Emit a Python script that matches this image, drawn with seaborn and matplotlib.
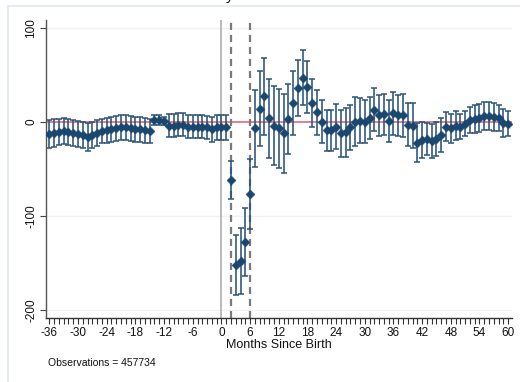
import matplotlib
matplotlib.use("Agg")
import matplotlib.pyplot as plt
from matplotlib.lines import Line2D
import pandas as pd
import seaborn as sns

# Event-time coefficients (months relative to birth) with 95% CI half-widths
months = list(range(-36, 61))

coef = [
    -13, -12, -11, -10, -11, -12, -13, -14, -16, -14, -12, -10, -9, -8, -7, -6,
    -6, -7, -8, -8, -9, -10,                      # -36 .. -15
    2, 2, 1,                                      # -14 .. -12
    -4, -4, -3, -3, -5, -5, -5, -5, -6, -8, -6, -6, -6,   # -11 .. 1
    -62, -152, -148, -128, -77,                   # 2 .. 6
    -7, 14, 27, 4, -4, -7, -12, 3, 20, 36, 47, 37, 20, 10, 0, -9, -9, -5,
    -12, -11, -6, 0, 1, 0, 4, 13, 7, 8, 1, 9, 7, 7, -3, -4, -22, -19, -18,
    -20, -18, -14, -5, -7, -4, -5, -2, 2, 3, 4, 6, 6, 5, 4, -1, -2,   # 7 .. 60
]

half_width = [
    15, 15, 14, 14, 14, 14, 14, 14, 15, 14, 14, 13, 13, 13, 13, 13,
    13, 13, 13, 13, 13, 13,
    5, 5, 4,
    12, 12, 12, 12, 12, 12, 12, 12, 12, 13, 13, 13, 13,
    20, 32, 35, 36, 37,
    41, 40, 41, 42, 42, 42, 42, 37, 34, 30, 29, 28, 25, 24, 23, 22, 22, 24,
    25, 26, 24, 26, 24, 23, 22, 23, 22, 22, 22, 23, 22, 23, 23, 24, 21, 19, 17,
    18, 18, 18, 15, 15, 15, 13, 13, 14, 15, 15, 15, 15, 15, 14, 15, 13,
]

x_ticks = list(range(-36, 61, 6))
y_ticks = [-200, -100, 0, 100]
event_lines = [2, 6]
observations = 457734

df = pd.DataFrame({"month": months, "coef": coef, "hw": half_width})

sns.set_theme(style="white")
plt.rcParams["font.family"] = ["Liberation Sans", "DejaVu Sans"]
plt.rcParams["axes.unicode_minus"] = False

W, H = 520, 382
fig = plt.figure(figsize=(W / 100, H / 100), dpi=100)
fig.patch.set_facecolor("white")

left, right, top, bottom = 46, 512, 20, 318.3
ax = fig.add_axes([left / W, 1 - bottom / H, (right - left) / W, (bottom - top) / H])
ax.set_facecolor("white")

# graph-region border lines
border = "#e3e9ef"
fig.add_artist(Line2D([7.5 / W, 7.5 / W], [0, 1 - 5.5 / H], color=border, lw=1.3,
                      transform=fig.transFigure))
fig.add_artist(Line2D([7.5 / W, 1], [1 - 5.5 / H, 1 - 5.5 / H], color=border, lw=1.3,
                      transform=fig.transFigure))

# faint horizontal grid
for yv in (100, -100, -200):
    ax.axhline(yv, color="#eef2f6", lw=1.0, zorder=0)

# reference lines
ax.axhline(0, color="#e05a72", lw=1.1, zorder=1)
ax.axvline(0, color="#a6a6a6", lw=1.1, zorder=1)
for xv in event_lines:
    ax.axvline(xv, color="#7a7a7a", lw=1.6, ls=(0, (3.2, 2.2)), zorder=1)

# confidence intervals
eb = ax.errorbar(df["month"], df["coef"], yerr=df["hw"], fmt="none",
                 ecolor="#2b5379", elinewidth=1.15, capsize=2.5, capthick=1.1, zorder=2)
for cap in eb[1]:
    cap.set_color("#7890a8")

# point estimates
sns.scatterplot(data=df, x="month", y="coef", marker="D", s=21, color="#1a476f",
                edgecolor="#1a476f", linewidth=0.3, zorder=4, ax=ax, legend=False)

ax.set_xlim(-36.7, 60.8)
ax.set_ylim(-208.8, 108.2)

ax.set_xticks(x_ticks)
ax.set_xticks(months, minor=True)
ax.set_yticks(y_ticks)
ax.set_yticklabels([str(v) for v in y_ticks], rotation=90, va="center")

ax.tick_params(axis="x", which="both", direction="out", length=4, width=0.8,
               color="#333333", bottom=True, pad=2.5, labelsize=8.5, labelcolor="#111111")
ax.tick_params(axis="y", which="major", direction="out", length=4.3, width=0.8,
               color="#444444", left=True, pad=2, labelsize=8.5, labelcolor="#111111")

for side in ("top", "right"):
    ax.spines[side].set_visible(False)
ax.spines["left"].set_color("#555555")
ax.spines["left"].set_linewidth(1.0)
ax.spines["bottom"].set_color("#333333")
ax.spines["bottom"].set_linewidth(1.0)

ax.set_xlabel("Months Since Birth", fontsize=9, color="#111111", labelpad=0)
ax.set_ylabel("")

fig.text(48 / W, 1 - 363 / H, f"Observations = {observations}", fontsize=7.5,
         color="#111111", ha="left", va="center")

# title sits above the visible area; only its descender shows
fig.text(230 / W, 1.0, "y", fontsize=11, ha="center", va="baseline", color="#111111")

fig.savefig("out.png", dpi=100, facecolor="white")
